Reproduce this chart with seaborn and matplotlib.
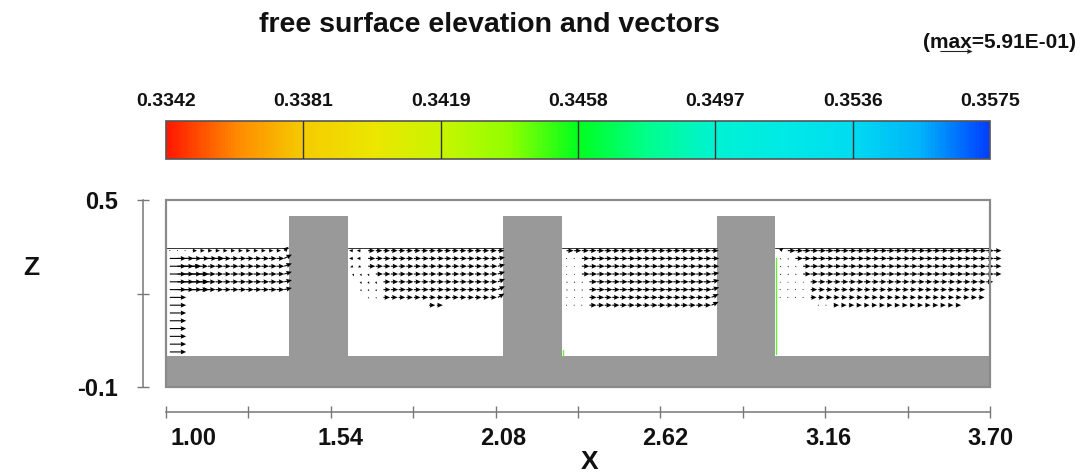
import numpy as np
import matplotlib
matplotlib.use("Agg")
import matplotlib.pyplot as plt
from matplotlib.colors import LinearSegmentedColormap
from matplotlib.patches import Rectangle
from matplotlib.transforms import ScaledTranslation
import seaborn as sns

# ---------------- data ----------------
X_TICKS = [1.00, 1.54, 2.08, 2.62, 3.16, 3.70]
X_MINOR = [1.27, 1.81, 2.35, 2.89, 3.43]
Z_TICKS = [0.5, 0.2, -0.1]
Z_TICK_LABELS = ["0.5", "", "-0.1"]
ELEV_TICKS = [0.3342, 0.3381, 0.3419, 0.3458, 0.3497, 0.3536, 0.3575]
MAX_SPEED = 0.591

# bed and three pillars
BED_TOP = 0.0
PILLAR_X0 = [1.403, 2.104, 2.805]
PILLAR_X1 = [1.596, 2.297, 2.995]
PILLAR_TOP = 0.45

# free surface level in each pool
SURF_X0 = [1.0, 1.596, 2.297, 2.995]
SURF_X1 = [1.40, 2.104, 2.805, 3.70]
SURF_Z = [0.3465, 0.3458, 0.3452, 0.3450]

# vector rows (cell centres in z)
ROW_Z = [0.3375, 0.3125, 0.2875, 0.2625, 0.2375, 0.2125, 0.1875,
         0.1625, 0.1375, 0.1125, 0.0875, 0.0625, 0.0375, 0.0125]
DX = 0.025

# inflow pool (left of first pillar)
INLET_U = 0.30
LEFT_X0 = [1.0125] * 14
LEFT_X1 = [1.3875] * 6 + [1.0125] * 8
LEFT_JET = [0, 6, 3, 4, 4, 4, 1, 1, 1, 1, 1, 1, 1, 1]
LEFT_U = [0.08, 0.14, 0.14, 0.14, 0.14, 0.14, 0, 0, 0, 0, 0, 0, 0, 0]
LEFT_NEAR_U = [0.02, 0.14, 0.14, 0.14, 0.14, 0.14, 0, 0, 0, 0, 0, 0, 0, 0]
LEFT_NEAR_N = [3, 0, 0, 0, 0, 0, 0, 0, 0, 0, 0, 0, 0, 0]
LEFT_NEAR_W = [0.0] * 14
LEFT_WALL_W = [0.07, 0.07, 0.05, 0.04, 0.03, 0.03, 0, 0, 0, 0, 0, 0, 0, 0]

# pool between pillars 1 and 2
MID1_X0 = [1.6125, 1.6125, 1.6125, 1.6125, 1.6375, 1.6375, 1.6625, 1.8625]
MID1_X1 = [2.0875] * 7 + [1.8875]
MID1_U = [0.12, 0.13, 0.13, 0.13, 0.13, 0.13, 0.12, 0.11]
MID1_NEAR_U = [-0.07, -0.07, -0.05, 0.02, 0.02, 0.02, 0.02, 0.02]
MID1_NEAR_N = [2, 2, 2, 3, 3, 3, 2, 0]
MID1_NEAR_W = [0.0, 0.0, -0.02, -0.04, -0.04, -0.03, -0.02, 0.0]
MID1_WALL_W = [0.0, 0.02, 0.03, 0.04, 0.05, 0.06, 0.07, 0.0]

# pool between pillars 2 and 3
MID2_X0 = [2.3125] * 8
MID2_X1 = [2.7875] * 8
MID2_U = [0.13, 0.14, 0.14, 0.14, 0.14, 0.14, 0.13, 0.13]
MID2_NEAR_U = [0.12, 0.01, 0.01, 0.01, 0.02, 0.02, 0.02, 0.01]
MID2_NEAR_N = [0, 2, 2, 2, 3, 3, 3, 3]
MID2_NEAR_W = [0.0, 0.0, -0.02, -0.02, -0.02, -0.02, -0.01, 0.0]
MID2_WALL_W = [0.0, 0.0, 0.0, 0.02, 0.03, 0.04, 0.06, 0.06]

# outflow pool (right of last pillar)
END_X0 = [3.0125] * 7 + [3.1375]
END_X1 = [3.7125, 3.7125, 3.7125, 3.7125, 3.6875, 3.6625, 3.6625, 3.5875]
END_U = [0.14, 0.14, 0.14, 0.14, 0.13, 0.12, 0.11, 0.10]
END_NEAR_U = [0.06, 0.02, 0.02, 0.02, 0.01, 0.01, 0.01, 0.01]
END_NEAR_N = [1, 2, 3, 3, 4, 4, 4, 2]
END_NEAR_W = [0.05, -0.02, -0.02, -0.02, -0.02, -0.01, -0.01, 0.0]
END_WALL_W = [0.0] * 8

# wet/dry contour lines
WET_X = [2.998, 2.300]
WET_Z0 = [0.005, 0.0]
WET_Z1 = [0.315, 0.02]

# ---------------- style ----------------
sns.set_theme(style="white")
plt.rcParams["font.family"] = ["Liberation Sans", "DejaVu Sans"]
plt.rcParams["font.weight"] = "bold"

FIG_W, FIG_H = 1090, 472
fig = plt.figure(figsize=(FIG_W / 100, FIG_H / 100), dpi=100)


def fx(px):
    return px / FIG_W


def fy(py):
    return 1 - py / FIG_H


# ---------------- main panel ----------------
ax = fig.add_axes([fx(166), fy(387), (990 - 166) / FIG_W, (387 - 200) / FIG_H])
ax.set_xlim(X_TICKS[0], X_TICKS[-1])
ax.set_ylim(Z_TICKS[-1], Z_TICKS[0])
ax.set_facecolor("white")

grey = "#999999"
ax.add_patch(Rectangle((X_TICKS[0], Z_TICKS[-1]), X_TICKS[-1] - X_TICKS[0],
                       BED_TOP - Z_TICKS[-1], fc=grey, ec="none", zorder=2))
for x0, x1 in zip(PILLAR_X0, PILLAR_X1):
    ax.add_patch(Rectangle((x0, BED_TOP - 0.01), x1 - x0, PILLAR_TOP - BED_TOP + 0.01,
                           fc=grey, ec="none", zorder=2))

for x0, x1, zs in zip(SURF_X0, SURF_X1, SURF_Z):
    ax.plot([x0, x1], [zs, zs], color="#333333", lw=0.7, zorder=3)

for xw, z0, z1 in zip(WET_X, WET_Z0, WET_Z1):
    ax.plot([xw, xw], [z0, z1], color="#66ee33", lw=1.0, zorder=3)

xs, zs, us, ws = [], [], [], []


def add_pool(x0s, x1s, u_rows, near_u, near_n, near_w, wall_w, jet=None):
    for r, (a, b) in enumerate(zip(x0s, x1s)):
        cols = np.arange(a, b + DX / 2, DX)
        njet = jet[r] if jet is not None else 0
        for c, xc in enumerate(cols):
            if c < njet:
                u, w = INLET_U, 0.0
            elif c - njet < near_n[r]:
                u, w = near_u[r], near_w[r]
            else:
                u, w = u_rows[r], 0.0
            if c == len(cols) - 1 and wall_w[r]:
                w = wall_w[r]
            if u == 0 and w == 0:
                continue
            xs.append(xc)
            zs.append(ROW_Z[r])
            us.append(u)
            ws.append(w)


add_pool(LEFT_X0, LEFT_X1, LEFT_U, LEFT_NEAR_U, LEFT_NEAR_N, LEFT_NEAR_W,
         LEFT_WALL_W, jet=LEFT_JET)
add_pool(MID1_X0, MID1_X1, MID1_U, MID1_NEAR_U, MID1_NEAR_N, MID1_NEAR_W, MID1_WALL_W)
add_pool(MID2_X0, MID2_X1, MID2_U, MID2_NEAR_U, MID2_NEAR_N, MID2_NEAR_W, MID2_WALL_W)
add_pool(END_X0, END_X1, END_U, END_NEAR_U, END_NEAR_N, END_NEAR_W, END_WALL_W)

q = ax.quiver(xs, zs, us, ws, angles="xy", scale_units="x", scale=5.6,
              units="dots", width=1.1, headwidth=4.5, headlength=5,
              headaxislength=4.5, pivot="tail", color="black",
              zorder=4, clip_on=False)

# frame of the domain
ax.add_patch(Rectangle((0, 0), 1, 1, transform=ax.transAxes, fill=False,
                       ec="#8a8a8a", lw=1.6, clip_on=False, zorder=6))

ax.grid(False)
for s in ax.spines.values():
    s.set_color("#777777")
    s.set_linewidth(1.1)
sns.despine(ax=ax, top=True, right=True, offset={"left": 16.5, "bottom": 17.8})

ax.set_xticks(X_TICKS)
ax.set_xticklabels([f"{v:.2f}" for v in X_TICKS])
ax.set_xticks(X_MINOR, minor=True)
ax.set_yticks(Z_TICKS)
ax.set_yticklabels(Z_TICK_LABELS)
ax.tick_params(which="both", direction="inout", length=8.5, width=1.0,
               color="#777777", labelsize=17, labelcolor="#111111",
               bottom=True, left=True)
ax.tick_params(axis="x", which="both", pad=7)
ax.tick_params(axis="y", pad=14)

# nudge the x tick labels to the right of their ticks
X_LABEL_SHIFT_PX = [27, 10, 8, 5, 3, 0]
for lab, dx in zip(ax.get_xticklabels(), X_LABEL_SHIFT_PX):
    lab.set_transform(lab.get_transform() + ScaledTranslation(dx / 100, 0, fig.dpi_scale_trans))

fig.text(fx(590), fy(462), "X", ha="center", va="center", fontsize=19,
         color="#111111")
fig.text(fx(31), fy(268), "Z", ha="center", va="center", fontsize=19,
         color="#111111")

# ---------------- elevation colour bar ----------------
cmap = LinearSegmentedColormap.from_list(
    "elev",
    [(0.0, "#ff1a00"), (1 / 12, "#ff8a00"), (2 / 12, "#f5cc00"),
     (3 / 12, "#ece600"), (4 / 12, "#c8f500"), (5 / 12, "#90ff00"),
     (6 / 12, "#00ff1e"), (7 / 12, "#00ff8a"), (8 / 12, "#00f2d2"),
     (9 / 12, "#00eae6"), (10 / 12, "#00dcf0"), (11 / 12, "#00b4fa"),
     (1.0, "#0040ff")])

ncell = 600
ramp = np.linspace(ELEV_TICKS[0], ELEV_TICKS[-1], ncell)[None, :]
cax = fig.add_axes([fx(166), fy(159), (990 - 166) / FIG_W, (159 - 121) / FIG_H])
sns.heatmap(ramp, ax=cax, cmap=cmap, vmin=ELEV_TICKS[0], vmax=ELEV_TICKS[-1],
            cbar=False, xticklabels=False, yticklabels=False)
pos = [i * ncell / (len(ELEV_TICKS) - 1) for i in range(len(ELEV_TICKS))]
for p in pos[1:-1]:
    cax.axvline(p, color="#333333", lw=1.0)
cax.add_patch(Rectangle((0, 0), 1, 1, transform=cax.transAxes, fill=False,
                        ec="#555555", lw=1.2, clip_on=False))
cax.set_xticks(pos)
cax.set_xticklabels([f"{v:.4f}" for v in ELEV_TICKS])
cax.xaxis.tick_top()
cax.tick_params(axis="x", length=0, pad=8, labelsize=14, labelcolor="#111111",
                labelrotation=0)
cax.set_yticks([])

# ---------------- title and reference vector ----------------
fig.text(fx(489), fy(25), "free surface elevation and vectors", ha="center",
         va="center", fontsize=20.5, color="#111111")
fig.text(fx(1076), fy(42), "(max=5.91E-01)", ha="right", va="center",
         fontsize=15, color="#111111")
ax.quiverkey(q, fx(956), fy(51), MAX_SPEED, " ", coordinates="figure",
             labelpos="N", color="#222222")

fig.savefig("out.png", dpi=100, facecolor="white")
